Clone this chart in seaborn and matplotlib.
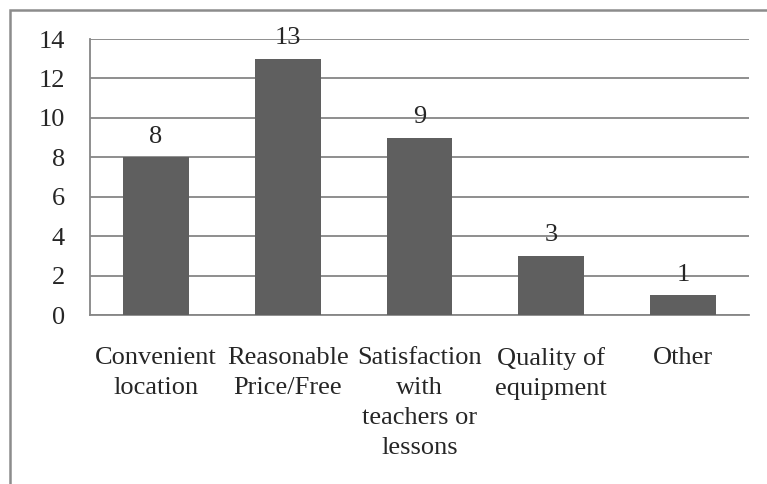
import matplotlib
matplotlib.use("Agg")
import matplotlib.pyplot as plt
import matplotlib.patches as mpatches
import seaborn as sns
import numpy as np

categories = ["Convenient\nlocation", "Reasonable\nPrice/Free",
              "Satisfaction\nwith\nteachers or\nlessons", "Quality of\nequipment", "Other"]
values = [8, 13, 9, 3, 1]
yticks = [0, 2, 4, 6, 8, 10, 12, 14]

sns.set_style("white")
plt.rcParams['font.family'] = ['Liberation Serif', 'DejaVu Serif']

W, H = 767, 484
fig = plt.figure(figsize=(W / 100, H / 100), dpi=100)
ax = fig.add_axes([90 / W, (H - 315) / H, (749 - 90) / W, (315 - 39) / H])

grid_c = "#868686"
sns.barplot(x=list(range(len(values))), y=values, color="#5f5f5f", saturation=1,
            width=0.5, ax=ax, zorder=3, linewidth=0)

ax.set_ylim(0, 14)
ax.set_xlim(-0.5, len(values) - 0.5)
ax.set_yticks(yticks)
ax.set_yticklabels([str(t) for t in yticks], fontsize=19)
ax.yaxis.grid(True, color=grid_c, linewidth=1.3, zorder=0)
ax.set_axisbelow(True)

# x ticks: major at boundaries (marks only), minor at centers (labels)
ax.set_xticks(np.arange(-0.5, len(values), 1.0))
ax.set_xticklabels([""] * (len(values) + 1))
ax.set_xticks(np.arange(len(values)), minor=True)
ax.set_xticklabels(categories, minor=True, fontsize=19, linespacing=1.47)
ax.tick_params(axis='x', which='major', length=5, width=1.3, color=grid_c, direction='out')
ax.tick_params(axis='x', which='minor', length=0, pad=23)
ax.tick_params(axis='y', length=6, width=1.3, color=grid_c, direction='out', pad=12)
ax.set_xlabel("")
ax.set_ylabel("")

for s in ["top", "right"]:
    ax.spines[s].set_visible(False)
for s in ["left", "bottom"]:
    ax.spines[s].set_color(grid_c)
    ax.spines[s].set_linewidth(1.3)

for c in ax.containers:
    ax.bar_label(c, labels=[str(v) for v in values], padding=7, fontsize=19)

# outer chart border (only top/left visible in crop)
rect = mpatches.Rectangle((10 / W, -0.2), 1.2, (H - 10) / H + 0.2, transform=fig.transFigure,
                          fill=False, edgecolor="#8c8c8c", linewidth=1.8, clip_on=False)
fig.patches.append(rect)

fig.savefig("out.png", dpi=100)
